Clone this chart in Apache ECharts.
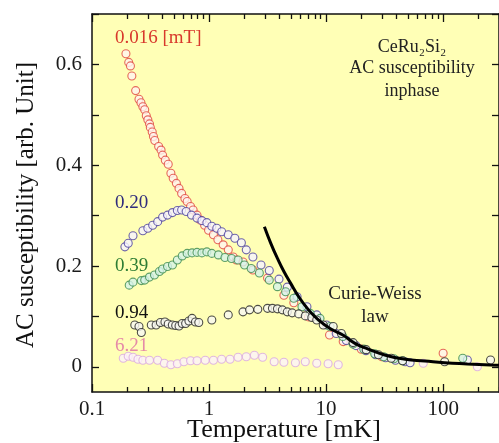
<!DOCTYPE html>
<html>
<head>
<meta charset="utf-8">
<script src="https://cdn.jsdelivr.net/npm/echarts@6/dist/echarts.min.js"></script>
<style>html,body{margin:0;padding:0;background:#fff}#c{width:499px;height:443px}</style>
</head>
<body>
<div id="c"></div>
<script>
// ---- data ----
const tRed = [0.195,0.206,0.213,0.219,0.236,0.252,0.262,0.272,0.282,0.291,0.300,0.310,0.315,0.327,0.335,0.344,0.371,0.389,0.401,0.423,0.448,0.472,0.494,0.526,0.554,0.583,0.622,0.650,0.695,0.731,0.789,0.843,0.916,0.990,1.09,1.19,1.32,1.46,1.61,1.71,1.95,2.37,3.16,4.36,5.30,7.08,10.7,14,20,30,100];
const chiRed = [0.621,0.604,0.597,0.577,0.548,0.531,0.524,0.516,0.510,0.498,0.490,0.482,0.475,0.466,0.457,0.449,0.437,0.430,0.420,0.410,0.402,0.384,0.374,0.364,0.354,0.344,0.334,0.328,0.318,0.311,0.301,0.291,0.281,0.271,0.262,0.252,0.242,0.232,0.218,0.212,0.208,0.192,0.176,0.142,0.127,0.099,0.063,0.050,0.035,0.020,0.027];

const tBlue = [0.191,0.204,0.224,0.272,0.300,0.330,0.364,0.401,0.442,0.487,0.536,0.583,0.638,0.708,0.789,0.869,0.958,1.056,1.164,1.282,1.459,1.661,1.889,2.08,2.37,2.78,3.27,3.96,4.66,5.65,6.86,8.32,10.1,12.2,14.9,18.0,21.9,26.5,32.2,39.1,47.4,52.2,161];
const chiBlue = [0.238,0.245,0.260,0.270,0.275,0.281,0.288,0.297,0.301,0.306,0.310,0.311,0.308,0.301,0.295,0.290,0.286,0.279,0.275,0.268,0.262,0.255,0.246,0.232,0.218,0.202,0.191,0.174,0.158,0.139,0.119,0.103,0.083,0.066,0.052,0.042,0.032,0.024,0.018,0.013,0.010,0.008,0.0135];

const tGreen = [0.208,0.224,0.264,0.282,0.310,0.342,0.377,0.401,0.442,0.487,0.536,0.590,0.650,0.716,0.789,0.869,0.958,1.056,1.202,1.368,1.556,1.771,2.01,2.29,2.69,3.27,3.84,4.51,5.30,6.22,7.31,8.87,10.8,13.9,17,21,26,31,38,45,147];
const chiGreen = [0.162,0.168,0.171,0.172,0.178,0.182,0.189,0.194,0.199,0.202,0.212,0.220,0.225,0.226,0.227,0.226,0.228,0.225,0.222,0.217,0.215,0.212,0.202,0.195,0.186,0.172,0.159,0.149,0.136,0.119,0.106,0.096,0.080,0.060,0.045,0.035,0.026,0.020,0.016,0.012,0.017];

const tBlack = [0.232,0.252,0.264,0.321,0.353,0.384,0.420,0.448,0.486,0.519,0.554,0.590,0.631,0.673,0.716,0.765,0.817,1.056,1.459,1.95,2.22,2.61,3.16,3.48,3.84,4.23,4.66,5.13,5.84,6.64,7.55,8.32,9.46,11.5,13.5,17,22,28,36,45,103,254];
const chiBlack = [0.083,0.080,0.068,0.083,0.083,0.088,0.089,0.085,0.083,0.082,0.081,0.086,0.086,0.091,0.096,0.089,0.088,0.093,0.103,0.109,0.113,0.114,0.116,0.116,0.115,0.113,0.109,0.107,0.105,0.101,0.098,0.093,0.083,0.080,0.066,0.048,0.034,0.024,0.017,0.012,0.010,0.0135];

const tPink = [0.185,0.204,0.224,0.247,0.272,0.310,0.364,0.415,0.472,0.536,0.610,0.695,0.789,0.928,1.09,1.28,1.51,1.77,2.08,2.44,2.87,3.60,4.36,5.47,6.64,8.32,10.4,12.7,67.6,196];
const chiPink = [0.017,0.021,0.019,0.015,0.013,0.013,0.013,0.007,0.004,0.006,0.010,0.012,0.012,0.013,0.013,0.015,0.015,0.019,0.020,0.023,0.019,0.010,0.009,0.008,0.010,0.007,0.006,0.004,0.007,0.000];

const tCW = [2.97,3.37,3.84,4.36,4.97,5.84,7.08,8.59,10.8,13.9,17.5,21.9,32.2,47.4,69.8,103,161,254,300];
const chiCW = [0.278,0.245,0.215,0.189,0.166,0.139,0.113,0.093,0.076,0.063,0.047,0.037,0.023,0.015,0.0115,0.008,0.0056,0.0036,0.003];

const xMajorTicks = [0.1, 1, 10, 100];
const xMinorTicks = [0.2,0.3,0.4,0.5,0.6,0.7,0.8,0.9,2,3,4,5,6,7,8,9,20,30,40,50,60,70,80,90,200,300];
const yTicks = [0, 0.1, 0.2, 0.3, 0.4, 0.5, 0.6, 0.7];
const yLabelTicks = [0, 0.2, 0.4, 0.6];

const fieldLabels = ['0.016 [mT]', '0.20', '0.39', '0.94', '6.21'];

// ---- chart ----
const SERIF = '"Liberation Serif", "DejaVu Serif", serif';
const zip = (a, b) => a.map((v, i) => [v, b[i]]);
const chart = echarts.init(document.getElementById('c'), null, {renderer: 'canvas'});

function xAxisDef(pos, ticks, len, showLine, showLabel) {
  return {
    type: 'log', logBase: 10, min: 0.1, max: 300, position: pos,
    axisLine: {show: showLine, onZero: false, lineStyle: {color: '#111', width: 1.5}},
    axisTick: {show: true, inside: true, length: len, customValues: ticks, lineStyle: {color: '#111', width: 1.3}},
    axisLabel: showLabel ? {
      show: true, customValues: ticks, margin: 7, fontSize: 21, fontFamily: SERIF, color: '#1a1a1a',
      formatter: v => String(Number(Number(v).toPrecision(3)))
    } : {show: false},
    splitLine: {show: false}, minorTick: {show: false}, minorSplitLine: {show: false}
  };
}
function yAxisDef(pos, showLabel) {
  return {
    type: 'value', min: -0.05, max: 0.7, position: pos,
    axisLine: {show: true, onZero: false, lineStyle: {color: '#111', width: 1.5}},
    axisTick: {show: true, inside: true, length: 7, customValues: yTicks, lineStyle: {color: '#111', width: 1.3}},
    axisLabel: showLabel ? {
      show: true, customValues: yLabelTicks, margin: 10, fontSize: 21, fontFamily: SERIF, color: '#1a1a1a',
      formatter: v => String(Number(Number(v).toFixed(2)))
    } : {show: false},
    splitLine: {show: false}
  };
}
function scatter(name, t, chi, border, fill) {
  return {
    name, type: 'scatter', xAxisIndex: 0, yAxisIndex: 0,
    data: zip(t, chi), symbol: 'circle', symbolSize: 8,
    itemStyle: {color: fill, borderColor: border, borderWidth: 1.1},
    emphasis: {disabled: true}, animation: false
  };
}
function txt(text, x, y, color, size, align) {
  return {type: 'text', x, y, z: 100, silent: true,
    style: {text, fill: color, font: 'normal ' + size + 'px ' + SERIF, align: align || 'left', verticalAlign: 'middle'}};
}

chart.setOption({
  animation: false,
  backgroundColor: '#ffffff',
  grid: {left: 92, top: 14, right: -7, bottom: 51, show: true, backgroundColor: '#ffffb6', borderWidth: 0},
  xAxis: [
    xAxisDef('bottom', xMajorTicks, 8, true, true),
    xAxisDef('bottom', xMinorTicks, 5, false, false),
    xAxisDef('top', xMajorTicks, 8, true, false),
    xAxisDef('top', xMinorTicks, 5, false, false)
  ],
  yAxis: [yAxisDef('left', true), yAxisDef('right', false)],
  series: [
    scatter(fieldLabels[0], tRed, chiRed, '#e0463c', '#fff4f0'),
    scatter(fieldLabels[1], tBlue, chiBlue, '#4b409c', '#f6f4ff'),
    scatter(fieldLabels[2], tGreen, chiGreen, '#3b8a4c', '#d6f2e8'),
    scatter(fieldLabels[3], tBlack, chiBlack, '#222222', '#f7f7f2'),
    scatter(fieldLabels[4], tPink, chiPink, '#d9a8e0', '#fcf3fb'),
    {
      name: 'Curie-Weiss law', type: 'line', xAxisIndex: 0, yAxisIndex: 0,
      data: zip(tCW, chiCW), smooth: true, showSymbol: false, symbol: 'none',
      lineStyle: {color: '#000', width: 3}, z: 5, animation: false
    }
  ],
  graphic: [
    txt(fieldLabels[0], 115, 38, '#d8382c', 19),
    txt(fieldLabels[1], 115, 203, '#2f2c7c', 19),
    txt(fieldLabels[2], 115, 266, '#2e7d34', 19),
    txt(fieldLabels[3], 115, 313, '#111111', 19),
    txt(fieldLabels[4], 115, 346, '#e58aa8', 19),
    txt('CeRu\u2082Si\u2082', 412, 47, '#222', 18, 'center'),
    txt('AC susceptibility', 412, 68, '#222', 18, 'center'),
    txt('inphase', 412, 91, '#222', 18, 'center'),
    txt('Curie-Weiss', 375, 294, '#222', 19, 'center'),
    txt('law', 375, 317, '#222', 19, 'center'),
    txt('Temperature [mK]', 284, 430, '#111', 26, 'center'),
    Object.assign(txt('AC susceptibility [arb. Unit]', 26, 205, '#111', 25, 'center'), {rotation: Math.PI / 2})
  ]
});
</script>
</body>
</html>
